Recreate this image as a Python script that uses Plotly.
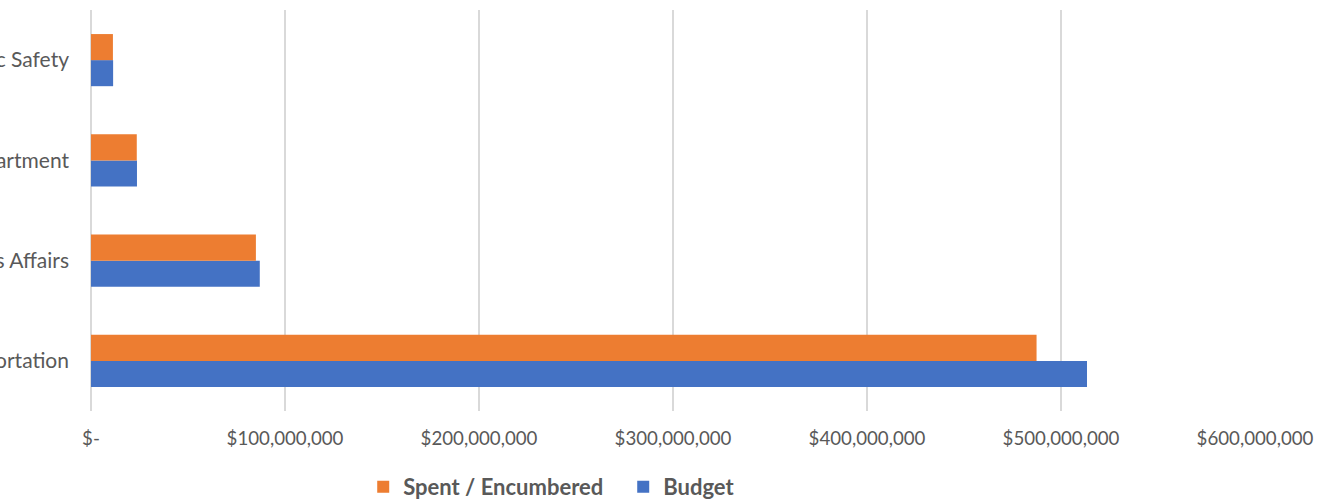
import plotly.graph_objects as go

categories = ["Transportation", "Veterans Affairs", "Police Department", "Public Safety"]
budget = [513.4e6, 87.0e6, 23.7e6, 11.4e6]
spent = [487.4e6, 85.0e6, 23.6e6, 11.3e6]
tick_vals = [0, 100e6, 200e6, 300e6, 400e6, 500e6, 600e6]
tick_text = ["$-", "$100,000,000", "$200,000,000", "$300,000,000",
             "$400,000,000", "$500,000,000", "$600,000,000"]

fig = go.Figure()
fig.add_trace(go.Bar(y=categories, x=budget, name="Budget", orientation="h",
                     marker=dict(color="#4472C4", line=dict(width=0))))
fig.add_trace(go.Bar(y=categories, x=spent, name="Spent / Encumbered", orientation="h",
                     marker=dict(color="#ED7D31", line=dict(width=0))))

fig.update_layout(
    width=1326, height=502,
    margin=dict(l=91, r=71, t=10, b=91),
    paper_bgcolor="white", plot_bgcolor="white",
    barmode="group", bargap=0.48, bargroupgap=0,
    font=dict(family="Lato, Calibri, sans-serif", size=18.7, color="#595959"),
    showlegend=True,
    legend=dict(orientation="h", traceorder="reversed",
                xref="container", yref="container",
                x=0.47, xanchor="center", y=0.03, yanchor="middle",
                font=dict(size=22, color="#595959", weight="bold"),
                itemwidth=30, entrywidth=215, entrywidthmode="pixels"),
    xaxis=dict(range=[0, 600e6], tickvals=tick_vals, ticktext=tick_text,
               showgrid=True, gridcolor="#D9D9D9", gridwidth=1.5,
               zeroline=True, zerolinecolor="#D9D9D9", zerolinewidth=1.5,
               showline=False, ticks="", ticklabelstandoff=14,
               automargin=False, fixedrange=True),
    yaxis=dict(categoryorder="array", categoryarray=categories,
               showgrid=False, zeroline=False, showline=False,
               tickfont=dict(size=21),
               ticks="", ticklabelstandoff=21, automargin=False,
               fixedrange=True),
)

fig.write_html("out.html")
